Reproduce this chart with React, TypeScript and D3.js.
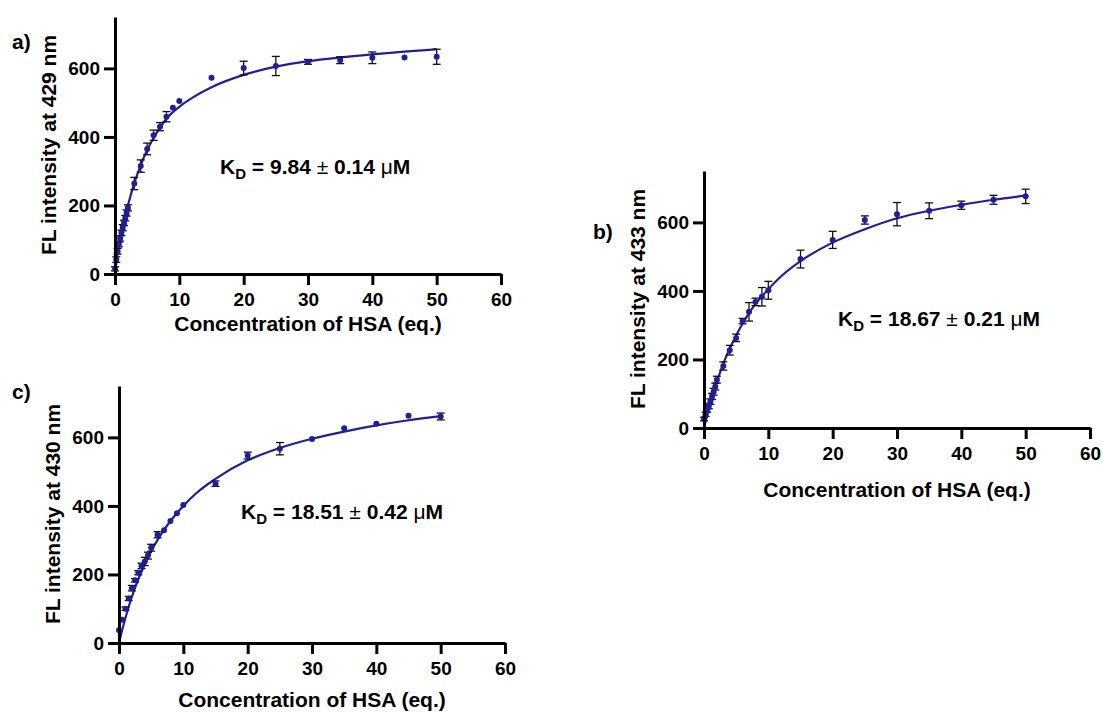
import React, { useEffect, useRef } from "react";
import * as d3 from "d3";

const xTicks = [0, 10, 20, 30, 40, 50, 60];
const yTicks = [0, 200, 400, 600];

// a) 429 nm
const aX = [0, 0.2, 0.4, 0.6, 0.8, 1.0, 1.2, 1.4, 1.6, 1.8, 2.0, 3, 4, 5, 6, 7, 8, 9, 10, 15, 20, 25, 30, 35, 40, 45, 50];
const aY = [15, 42, 66, 86, 104, 120, 135, 149, 163, 178, 193, 264, 315, 365, 405, 430, 459, 485, 505, 573, 601, 607, 619, 624, 631, 632, 634];
const aErr = [6, 8, 8, 7, 8, 8, 9, 8, 8, 9, 9, 18, 18, 17, 15, 12, 15, 0, 0, 0, 20, 28, 7, 10, 17, 0, 22];
const aFitX = [0, 0.25, 0.5, 1, 1.5, 2, 3, 4, 5, 6, 7, 8, 10, 12, 15, 20, 25, 30, 35, 40, 45, 50];
const aFitY = [0, 40, 75, 125, 165, 200, 265, 318, 362, 397, 427, 453, 488, 514, 545, 581, 605, 621, 632, 641, 649, 656];

// b) 433 nm
const bX = [0, 0.25, 0.5, 0.75, 1, 1.25, 1.5, 1.75, 2, 3, 4, 5, 6, 7, 8, 9, 10, 15, 20, 25, 30, 35, 40, 45, 50];
const bY = [26, 40, 52, 64, 77, 92, 106, 121, 141, 181, 227, 263, 312, 339, 368, 383, 402, 493, 549, 607, 624, 634, 650, 666, 676];
const bErr = [5, 6, 6, 8, 8, 9, 10, 10, 10, 12, 14, 11, 8, 27, 11, 27, 26, 26, 25, 12, 34, 23, 12, 13, 21];
const bFitX = [0, 0.5, 1, 2, 3, 4, 5, 6, 7, 8, 10, 12, 15, 20, 25, 30, 35, 40, 45, 50];
const bFitY = [0, 39, 74, 135, 188, 232, 270, 305, 335, 362, 405, 443, 487, 541, 580, 612, 634, 651, 666, 678];

// c) 430 nm
const cX = [0, 0.5, 1, 1.5, 2, 2.5, 3, 3.5, 4, 4.5, 5, 6, 7, 8, 9, 10, 15, 20, 25, 30, 35, 40, 45, 50];
const cY = [37, 68, 100, 130, 160, 183, 205, 225, 238, 255, 278, 316, 329, 356, 379, 403, 465, 547, 567, 595, 627, 640, 663, 661];
const cErr = [0, 0, 5, 6, 8, 5, 6, 8, 12, 10, 10, 9, 0, 0, 0, 0, 8, 10, 18, 0, 0, 0, 0, 10];
const cFitX = [0, 0.5, 1, 2, 3, 4, 5, 6, 7, 8, 10, 12, 15, 20, 25, 30, 35, 40, 45, 50];
const cFitY = [0, 38, 73, 135, 186, 229, 268, 301, 330, 356, 400, 437, 479, 533, 569, 596, 617, 635, 650, 662];

const W = 1103;
const H = 712;
const plotW = 386;
const plotH = 257;
const font = "Arial, 'Liberation Sans', Helvetica, sans-serif";
const navy = "#1f1f98";

type PanelProps = {
  left: number;
  bottom: number;
  label: string;
  labelX: number;
  labelY: number;
  yTitle: string;
  kd: string;
  err: string;
  kdX: number;
  kdY: number;
  titleOff: number;
  xs: number[];
  ys: number[];
  errs: number[];
  fitX: number[];
  fitY: number[];
};

function Panel(p: PanelProps) {
  const axRef = useRef<SVGGElement>(null);
  const x = d3.scaleLinear().domain([0, 60]).range([0, plotW]);
  const y = d3.scaleLinear().domain([0, 750]).range([plotH, 0]);

  useEffect(() => {
    const g = d3.select(axRef.current);
    g.select<SVGGElement>(".x-axis")
      .attr("transform", `translate(0,${plotH})`)
      .call(d3.axisBottom(x).tickValues(xTicks).tickSize(11).tickSizeOuter(0).tickPadding(8));
    g.select<SVGGElement>(".y-axis")
      .call(d3.axisLeft(y).tickValues(yTicks).tickSize(11).tickSizeOuter(0).tickPadding(4));
    g.selectAll(".domain, .tick line").attr("stroke", "#000").attr("stroke-width", 3);
    g.selectAll(".tick text")
      .attr("fill", "#000")
      .style("font-family", font)
      .style("font-weight", "bold")
      .style("font-size", "19px");
  }, []);

  const fit = d3
    .line<number>()
    .x((d, i) => x(p.fitX[i]))
    .y((d) => y(d))
    .curve(d3.curveMonotoneX);

  return (
    <g>
      <text x={p.labelX} y={p.labelY} fontFamily={font} fontWeight="bold" fontSize={21}>
        {p.label}
      </text>
      <g transform={`translate(${p.left},${p.bottom - plotH})`}>
        <path d={fit(p.fitY) || ""} fill="none" stroke={navy} strokeWidth={2.2} />
        {p.xs.map((xv, i) =>
          p.errs[i] > 0 ? (
            <g key={"e" + i} stroke="#111" strokeWidth={1.3}>
              <line x1={x(xv)} x2={x(xv)} y1={y(p.ys[i] - p.errs[i])} y2={y(p.ys[i] + p.errs[i])} />
              <line x1={x(xv) - 4} x2={x(xv) + 4} y1={y(p.ys[i] - p.errs[i])} y2={y(p.ys[i] - p.errs[i])} />
              <line x1={x(xv) - 4} x2={x(xv) + 4} y1={y(p.ys[i] + p.errs[i])} y2={y(p.ys[i] + p.errs[i])} />
            </g>
          ) : null
        )}
        {p.xs.map((xv, i) => (
          <circle key={"p" + i} cx={x(xv)} cy={y(p.ys[i])} r={3} fill={navy} />
        ))}
        <g ref={axRef}>
          <g className="x-axis" />
          <g className="y-axis" />
        </g>
        <text
          x={plotW / 2}
          y={plotH + p.titleOff}
          dy="0.36em"
          textAnchor="middle"
          fontFamily={font}
          fontWeight="bold"
          fontSize={21}
        >
          Concentration of HSA (eq.)
        </text>
        <text
          transform={`translate(-67,${plotH - 129}) rotate(-90)`}
          dy="0.36em"
          textAnchor="middle"
          fontFamily={font}
          fontWeight="bold"
          fontSize={21}
        >
          {p.yTitle}
        </text>
        <text x={p.kdX} y={p.kdY} fontFamily={font} fontWeight="bold" fontSize={21}>
          K
          <tspan fontSize={15} dy={5}>
            D
          </tspan>
          <tspan dy={-5}>{` = ${p.kd} `}</tspan>
          <tspan fontWeight="normal">±</tspan>
          <tspan>{` ${p.err} `}</tspan>
          <tspan fontWeight="normal">μ</tspan>
          <tspan>M</tspan>
        </text>
      </g>
    </g>
  );
}

export default function App() {
  return (
    <svg width={W} height={H} style={{ position: "absolute", left: 0, top: 0, background: "#fff" }}>
      <Panel
        left={115}
        bottom={274}
        label="a)"
        labelX={12}
        labelY={49}
        yTitle="FL intensity at 429 nm"
        kd="9.84"
        err="0.14"
        kdX={105}
        kdY={plotH - 100}
        titleOff={49}
        xs={aX}
        ys={aY}
        errs={aErr}
        fitX={aFitX}
        fitY={aFitY}
      />
      <Panel
        left={704}
        bottom={428}
        label="b)"
        labelX={593}
        labelY={239}
        yTitle="FL intensity at 433 nm"
        kd="18.67"
        err="0.21"
        kdX={134}
        kdY={plotH - 102}
        titleOff={61}
        xs={bX}
        ys={bY}
        errs={bErr}
        fitX={bFitX}
        fitY={bFitY}
      />
      <Panel
        left={119}
        bottom={643}
        label="c)"
        labelX={12}
        labelY={399}
        yTitle="FL intensity at 430 nm"
        kd="18.51"
        err="0.42"
        kdX={122}
        kdY={plotH - 124}
        titleOff={56}
        xs={cX}
        ys={cY}
        errs={cErr}
        fitX={cFitX}
        fitY={cFitY}
      />
    </svg>
  );
}
